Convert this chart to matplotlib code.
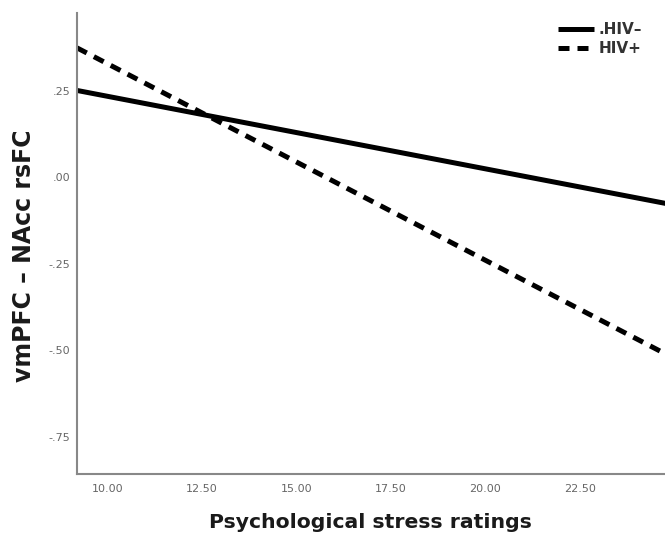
import numpy as np
import matplotlib
matplotlib.use("Agg")
import matplotlib.pyplot as plt

# fitted lines at both ends of the x range
stress = [9.2, 24.8]
hiv_neg = [0.251, -0.076]
hiv_pos = [0.374, -0.512]

xticks = [10.0, 12.5, 15.0, 17.5, 20.0, 22.5]
yticks = [0.25, 0.0, -0.25, -0.5, -0.75]

fig = plt.figure(figsize=(6.65, 5.38), dpi=100)
ax = fig.add_axes([0.1158, 0.119, 0.884, 0.857])

ax.plot(stress, hiv_neg, color="black", lw=3.6, solid_capstyle="butt", label=".HIV\u2013")
ax.plot(stress, hiv_pos, color="black", lw=3.6, linestyle=(0, (2.2, 1.6)),
        dash_capstyle="butt", label="HIV+")

ax.set_xlim(9.2, 24.75)
ax.set_ylim(-0.857, 0.475)

ax.set_xticks(xticks)
ax.set_xticklabels(["%.2f" % v for v in xticks])
ax.set_yticks(yticks)
ax.set_yticklabels([("%.2f" % v).replace("0.", ".") for v in yticks])
ax.tick_params(length=0, labelsize=8, colors="#666666")
ax.tick_params(axis="x", pad=7)
ax.tick_params(axis="y", pad=5)

for s in ["top", "right"]:
    ax.spines[s].set_visible(False)
for s in ["left", "bottom"]:
    ax.spines[s].set_color("#888888")
    ax.spines[s].set_linewidth(1.5)

ax.set_xlabel("Psychological stress ratings", fontsize=14.7, fontweight="bold", color="#1a1a1a")
ax.xaxis.set_label_coords(0.5, -0.085)
ax.set_ylabel("vmPFC \u2013 NAcc rsFC", fontsize=17, fontweight="bold", color="#1a1a1a")
ax.yaxis.set_label_coords(-0.07, 0.473)

leg = ax.legend(loc="upper right", bbox_to_anchor=(0.985, 1.01), frameon=False,
                handlelength=2.4, handletextpad=0.3, labelspacing=0.25,
                prop={"size": 11, "weight": "bold"})
for t in leg.get_texts():
    t.set_color("#333333")

fig.savefig("out.png", dpi=100)
